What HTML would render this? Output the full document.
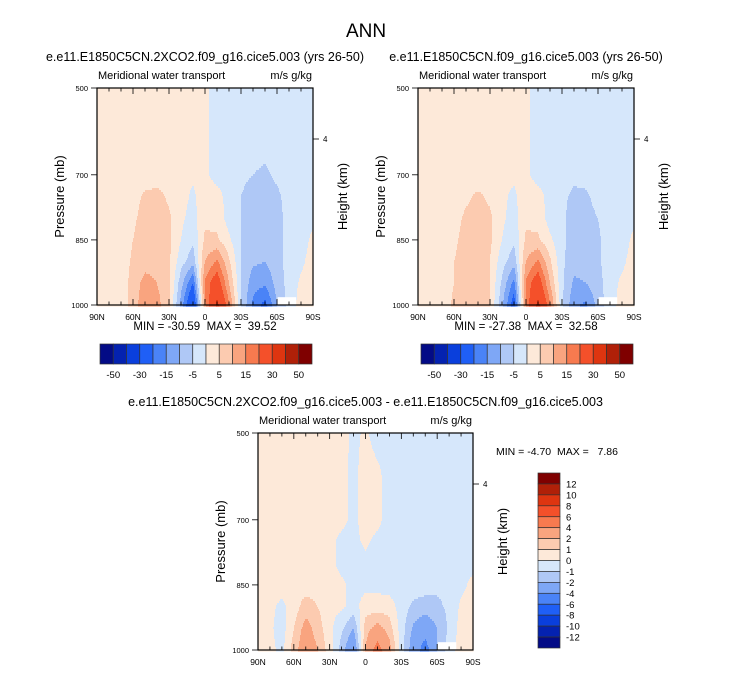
<!DOCTYPE html>
<html><head><meta charset="utf-8">
<style>
body{margin:0;background:#fff;}
svg{display:block;font-family:"Liberation Sans",Arial,sans-serif;}
</style></head>
<body>
<svg id="fig" width="733" height="673" viewBox="0 0 733 673" xmlns="http://www.w3.org/2000/svg">
<rect width="733" height="673" fill="#fff"/>
<text x="366" y="37" font-size="19" text-anchor="middle">ANN</text>
</svg>
<script>
// ---- data ----
const lats = [90,80,70,60,50,40,30,20,10,0,-10,-20,-30,-40,-50,-60,-70,-80,-90];
const pres = [500,600,700,750,800,850,900,950,1000];
const levelsTop = [-50,-40,-30,-20,-15,-10,-5,0,5,10,15,20,30,40,50];
const levelsDiff = [-12,-10,-8,-6,-4,-2,-1,0,1,2,4,6,8,10,12];
const labelsTop = ['-50','-30','-15','-5','5','15','30','50'];
const labelsDiff = ['12','10','8','6','4','2','1','0','-1','-2','-4','-6','-8','-10','-12'];
const xTickLats = [90,60,30,0,-30,-60,-90];
const xTickLabels = ['90N','60N','30N','0','30S','60S','90S'];
const pTicks = [500,700,850,1000];
const colors = ['#030b86','#0422b0','#0a3fdc','#1f5ff6','#4a83f7','#7ea7f6','#afc8f6','#d6e7fb','#fde9d9','#fccbb0','#f9a47f','#f77a4f','#f4502a','#de3510','#b02008','#7f0000'];
const gridA = [
[2,2,2,2,2,2,2,2,2,1,-2,-2,-2,-2,-2,-2,-2,-2,-2],
[2,2,2,2,2,2,2,2,2,1,-2,-2,-2,-2,-2,-2,-2,-2,-2],
[2,2,2,2,2,2,2,1,1,1,-2,-3,-4,-5,-6,-4,-3,-2,-2],
[2,2,2,3,6,7,4,2,-1,3,2,-2,-5,-7,-7,-6,-3,-2,-2],
[2,2,2,4,7,8,6,1,-2,4,3,-2,-5,-8,-8,-7,-3,-2,-1],
[2,2,2,5,8,8,6,0,-4,6,6,1,-5,-8,-8,-7,-3,-2,1],
[2,2,2,6,8,8,6,-3,-8,10,16,6,-5,-9,-10,-7,-3,-1,2],
[2,2,2,7,12,10,6,-8,-20,16,25,10,-5,-13,-14,-8,-3,1,2],
[2,2,2,7,14,12,6,-12,-30,14,32,16,-5,-16,-22,-10,-3,2,3]];
const gridB = [
[2,2,2,2,2,2,2,2,2,1,-2,-2,-2,-2,-2,-2,-2,-2,-2],
[2,2,2,2,2,2,2,2,2,1,-2,-2,-2,-2,-2,-2,-2,-2,-2],
[2,2,2,2,2,2,2,1,1,1,-2,-2,-3,-4,-3,-2,-2,-2,-2],
[2,2,2,2,4,6,4,1,-1,3,2,-2,-4,-6,-6,-3,-2,-2,-2],
[2,2,2,3,6,7,6,1,-2,4,3,-2,-4,-7,-7,-5,-2,-2,-1],
[2,2,2,4,7,7,6,0,-4,6,6,1,-4,-7,-7,-6,-2,-2,1],
[2,2,2,5,7,7,5,-3,-8,10,16,6,-4,-8,-8,-6,-2,-1,2],
[2,2,2,5,8,9,5,-6,-17,16,25,10,-4,-11,-10,-7,-2,1,2],
[2,2,2,6,9,10,5,-9,-24,16,32,16,-4,-14,-16,-8,-2,2,3]];
const gridC = [
[.5,.5,.5,.5,.5,.5,.5,.5,-.3,.2,-.5,-.5,-.5,-.5,-.5,-.5,-.5,-.5,-.5],
[.5,.5,.5,.5,.5,.5,.5,.3,-.3,.5,.3,-.5,-.5,-.5,-.5,-.5,-.5,-.5,-.5],
[.5,.5,.5,.5,.5,.5,.5,.3,-.3,.5,.3,-.5,-.5,-.5,-.5,-.5,-.5,-.5,-.5],
[.5,.5,.5,.5,.5,.5,.3,-.3,-.3,.2,-.3,-.5,-.5,-.5,-.5,-.5,-.5,-.5,-.5],
[.5,.5,.5,.5,.5,.5,.3,-.3,-.3,-.3,-.3,-.5,-.5,-.5,-.5,-.7,-.5,-.5,-.3],
[.5,.5,.5,.5,.5,.5,.3,.2,-.3,-.3,-.3,-.5,-.5,-.5,-.5,-.8,-.8,-.3,.3],
[.5,.3,-.3,.5,1.5,1,.3,.2,-.4,.5,.5,.5,-.5,-1.2,-1.5,-1.2,-.8,.2,.5],
[.5,.2,-.5,1,2.5,1.5,.3,-.8,-2,1.5,2.5,1.5,-.5,-2.2,-3,-2,-.8,.4,.5],
[.5,.3,-.3,1.5,3,2,.5,-1.5,-3.5,2,5,2.5,-.5,-2.8,-5,-2,-.5,.5,.5]];

const NS='http://www.w3.org/2000/svg';
const svg=document.getElementById('fig');
function mk(tag,attrs,parent){const e=document.createElementNS(NS,tag);for(const k in attrs)e.setAttribute(k,attrs[k]);(parent||svg).appendChild(e);return e;}
function txt(x,y,s,size,anchor,parent,rot){const t=mk('text',{x:x,y:y,'font-size':size,'text-anchor':anchor||'start'},parent);if(rot)t.setAttribute('transform','rotate(-90 '+x+' '+y+')');t.textContent=s;return t;}

function sample(grid,lat,p){
  let fi=(90-lat)/10; let i=Math.min(Math.floor(fi),lats.length-2); let tx=fi-i;
  let j=0; while(j<pres.length-2 && p>pres[j+1]) j++;
  let ty=(p-pres[j])/(pres[j+1]-pres[j]);
  const a=grid[j][i],b=grid[j][i+1],c=grid[j+1][i],d=grid[j+1][i+1];
  return (a*(1-tx)+b*tx)*(1-ty)+(c*(1-tx)+d*tx)*ty;
}
function bin(v,lev){let k=0;while(k<lev.length&&v>=lev[k])k++;return k;}

function panel(opts){
  const {x0,y0,w,h,grid,lev,title,name}=opts;
  const g=mk('g',{});
  
  
  const xs=lat=>x0+(90-lat)/180*w;
  const ys=p=>y0+(p-500)/500*h;
  const cells=mk('g',{},g);
  
  
  const step=2;
  for(let py=0;py<h;py+=step){
    const p=500+(py+step/2)/h*500;
    let runStart=0,runBin=-1;
    for(let px=0;px<=w;px++){
      let b=-1;
      if(px<w){const lat=90-(px+0.5)/w*180;b=bin(sample(grid,lat,p),lev);}
      if(b!==runBin){
        if(runBin>=0){const r=mk('rect',{x:x0+runStart,y:y0+py,width:px-runStart+0.6,height:step+0.6,fill:colors[runBin]},cells);
          
          }
        runStart=px;runBin=b;
      }
    }
  }
  const m=mk('rect',{x:xs(-60.5),y:ys(982),width:xs(-76)-xs(-60.5),height:ys(1000)-ys(982),fill:'#fff'},g);
  
  
  const f=mk('rect',{x:x0,y:y0,width:w,height:h,fill:'none',stroke:'#000','stroke-width':1.2},g);
  
  
  for(let lat=90;lat>=-90;lat-=10){
    const major=lat%30===0;const X=xs(lat);
    mk('line',{x1:X,y1:y0+h,x2:X,y2:y0+h-(major?6:3.5),stroke:'#000','stroke-width':0.8},g);
    mk('line',{x1:X,y1:y0,x2:X,y2:y0+(major?6:3.5),stroke:'#000','stroke-width':0.8},g);
  }
  xTickLats.forEach((lat,k)=>{const t=txt(xs(lat),y0+h+15,xTickLabels[k],8.5,'middle',g);
    
    });
  pTicks.forEach(p=>{mk('line',{x1:x0-6,y1:ys(p),x2:x0,y2:ys(p),stroke:'#000','stroke-width':0.8},g);
    const t=txt(x0-9,ys(p)+3,String(p),7.5,'end',g);
    
    });
  mk('line',{x1:x0+w,y1:y0+51,x2:x0+w+6,y2:y0+51,stroke:'#000','stroke-width':0.8},g);
  txt(x0+w+10,y0+54,'4',8,'start',g);
  const yl=txt(x0-33,y0+h/2,'Pressure (mb)',13,'middle',g,true);
  
  
  const hl=txt(x0+w+34,y0+h/2,'Height (km)',13,'middle',g,true);
  
  
  const tt=txt(x0+w/2,y0-27,title,12.5,'middle',g);
  
  
  const st=txt(x0+1,y0-9,'Meridional water transport',11,'start',g);
  
  
  const un=txt(x0+w-1,y0-9,'m/s g/kg',11,'end',g);
  
  
}

function hbar(x0,y0,w,h,cx,minmax){
  const g=mk('g',{});
  
  
  const bw=w/colors.length;
  colors.forEach((c,k)=>{const r=mk('rect',{x:x0+k*bw,y:y0,width:bw,height:h,fill:c,stroke:'#333','stroke-width':0.7},g);
    
    });
  labelsTop.forEach((s,k)=>{const t=txt(x0+(1+2*k)*bw,y0+h+14,s,9.5,'middle',g);
    
    });
  const mm=txt(cx,y0-14,minmax,11.5,'middle');
  
  
  mm.style.whiteSpace='pre';
}
function vbar(x0,y0,w,h){
  const g=mk('g',{});
  
  
  const bh=h/colors.length;
  colors.slice().reverse().forEach((c,k)=>{const r=mk('rect',{x:x0,y:y0+k*bh,width:w,height:bh,fill:c,stroke:'#333','stroke-width':0.7},g);
    
    });
  labelsDiff.forEach((s,k)=>{const t=txt(x0+w+6,y0+(k+1)*bh+3.5,s,9.5,'start',g);
    
    });
}

panel({x0:97,y0:88,w:216,h:217,grid:gridA,lev:levelsTop,title:'e.e11.E1850C5CN.2XCO2.f09_g16.cice5.003 (yrs 26-50)',name:'panel-2xco2'});
panel({x0:418,y0:88,w:216,h:217,grid:gridB,lev:levelsTop,title:'e.e11.E1850C5CN.f09_g16.cice5.003 (yrs 26-50)',name:'panel-control'});
panel({x0:258,y0:433,w:215,h:217,grid:gridC,lev:levelsDiff,title:'e.e11.E1850C5CN.2XCO2.f09_g16.cice5.003 - e.e11.E1850C5CN.f09_g16.cice5.003',name:'panel-difference'});
hbar(100,344,212,20,205,'MIN = -30.59  MAX =  39.52');
hbar(421,344,212,20,526,'MIN = -27.38  MAX =  32.58');
vbar(538,473,22,175);
const dm=txt(557,455,'MIN = -4.70  MAX =   7.86',10.5,'middle');


dm.style.whiteSpace='pre';
</script>
</body></html>
